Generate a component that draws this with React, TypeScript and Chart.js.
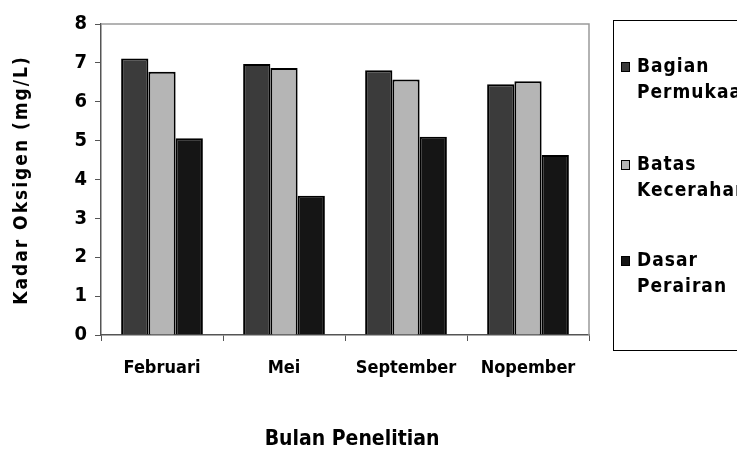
import React, { useEffect, useRef } from "react";
import { Chart, registerables } from "chart.js";

Chart.register(...registerables);

const categories = ["Februari", "Mei", "September", "Nopember"];
const seriesNames = [["Bagian", "Permukaan"], ["Batas", "Kecerahan"], ["Dasar", "Perairan"]];
const permukaan = [7.11, 6.97, 6.81, 6.45];
const kecerahan = [6.77, 6.87, 6.57, 6.53];
const dasar = [5.06, 3.58, 5.1, 4.63];
const colors = ["#3b3b3b", "#b5b5b5", "#151515"];
const yTitle = "Kadar Oksigen (mg/L)";
const xTitle = "Bulan Penelitian";

const FONT = '"Liberation Sans Narrow", "DejaVu Sans Condensed", "Liberation Sans", Arial, sans-serif';

const decorPlugin = {
  id: "decor",
  afterDraw(chart: any) {
    const ctx = chart.ctx as CanvasRenderingContext2D;
    const a = chart.chartArea;
    ctx.save();
    ctx.strokeStyle = "#9a9a9a";
    ctx.lineWidth = 1.5;
    ctx.beginPath();
    ctx.moveTo(a.left, a.top);
    ctx.lineTo(a.right, a.top);
    ctx.lineTo(a.right, a.bottom);
    ctx.stroke();
    ctx.fillStyle = "#000";
    ctx.font = `bold 19px ${FONT}`;
    (ctx as any).letterSpacing = "2px";
    ctx.textAlign = "center";
    ctx.textBaseline = "middle";
    ctx.translate(22, 180);
    ctx.rotate(-Math.PI / 2);
    ctx.fillText(yTitle, 0, 0);
    ctx.restore();

    ctx.save();
    ctx.fillStyle = "#000";
    ctx.font = `bold 21px ${FONT}`;
    ctx.textAlign = "center";
    ctx.textBaseline = "middle";
    ctx.fillText(xTitle, 352, 440);

    ctx.strokeStyle = "#000";
    ctx.lineWidth = 1;
    ctx.strokeRect(613.5, 20.5, 200, 330);
    ctx.font = `bold 19px ${FONT}`;
    (ctx as any).letterSpacing = "1px";
    ctx.textAlign = "left";
    const ys = [67, 165, 261];
    seriesNames.forEach((lines, i) => {
      const y = ys[i];
      ctx.fillStyle = colors[i];
      ctx.fillRect(621, y - 5, 9, 10);
      ctx.strokeStyle = "#000";
      ctx.strokeRect(621.5, y - 4.5, 8, 9);
      ctx.fillStyle = "#000";
      ctx.fillText(lines[0], 637, y);
      ctx.fillText(lines[1], 637, y + 26);
    });
    ctx.restore();
  },
};

export default function App() {
  const ref = useRef<HTMLCanvasElement>(null);
  useEffect(() => {
    if (!ref.current) return;
    const data = [permukaan, kecerahan, dasar];
    const chart = new Chart(ref.current, {
      type: "bar",
      data: {
        labels: categories,
        datasets: data.map((d, i) => ({
          label: seriesNames[i].join(" "),
          data: d,
          backgroundColor: colors[i],
          borderColor: "#000",
          borderWidth: 2,
          categoryPercentage: 0.67,
          barPercentage: 1,
        })),
      },
      options: {
        animation: false,
        responsive: false,
        maintainAspectRatio: false,
        layout: { autoPadding: false, padding: { top: 24, right: 148, left: 0, bottom: 0 } },
        plugins: { legend: { display: false }, tooltip: { enabled: false } },
        scales: {
          x: {
            grid: { offset: true, drawOnChartArea: false, drawTicks: true, tickLength: 6, color: "#555" },
            border: { color: "#555", width: 1.5 },
            ticks: { color: "#000", font: { family: FONT, size: 18, weight: "bold" }, padding: 17 },
            afterFit: (s: any) => { s.height = 451 - 335; },
          },
          y: {
            min: 0,
            max: 8,
            grid: { drawOnChartArea: false, drawTicks: true, tickLength: 6, color: "#555" },
            border: { color: "#555", width: 1.5 },
            ticks: { stepSize: 1, color: "#000", font: { family: FONT, size: 20, weight: "bold" }, padding: 8 },
            afterFit: (s: any) => { s.width = 101; },
          },
        },
      },
      plugins: [decorPlugin],
    });
    return () => chart.destroy();
  }, []);
  return (
    <div style={{ position: "absolute", left: 0, top: 0, width: 737, height: 451, background: "#fff", overflow: "hidden" }}>
      <canvas ref={ref} width={737} height={451} style={{ width: 737, height: 451 }} />
    </div>
  );
}
